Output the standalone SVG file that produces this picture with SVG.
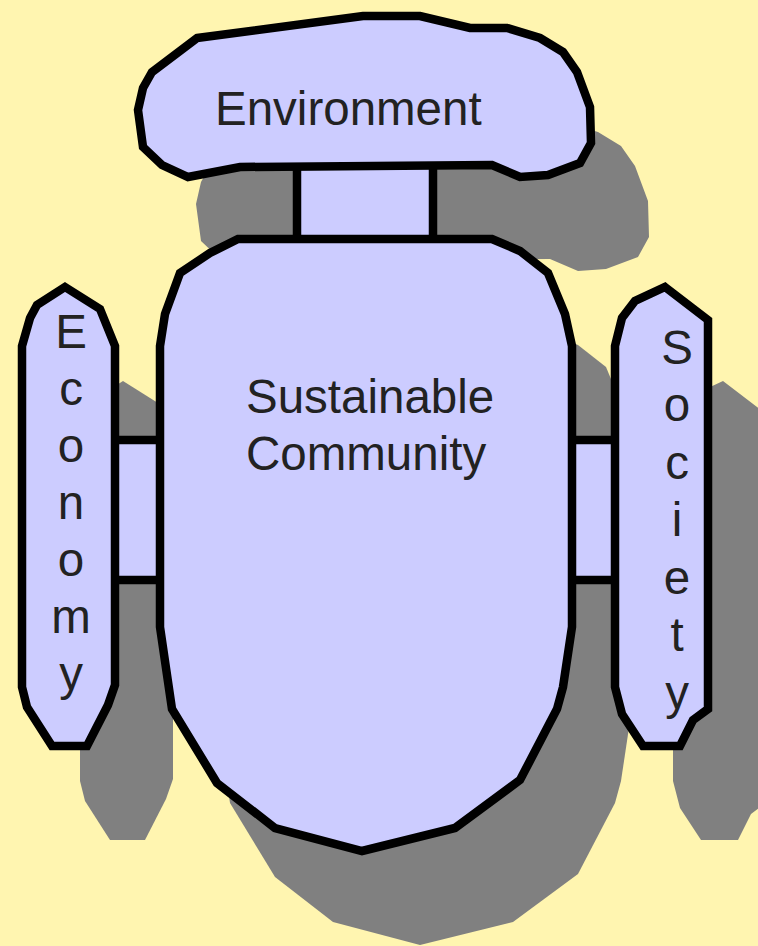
<svg xmlns="http://www.w3.org/2000/svg" width="758" height="946" viewBox="0 0 758 946">
<defs>
<style>
.shape{fill:#CCCCFF;stroke:#000;stroke-width:8.5;stroke-linejoin:miter}
.shadow{fill:#808080}
.lbl{font-family:"Liberation Sans",Arial,sans-serif;font-size:47.5px;fill:#222}
.edge{stroke:#000;stroke-width:8.5}
.link{fill:#CCCCFF}
</style>
<polygon id="envShape" points="197,38 363,16 420,16 470,28 507,28 540,38 563,52 577,72 590,107 591,143 580,163 548,175 520,177 492,165 240,167 188,177 162,165 143,147 138,110 143,88 152,72"/>
<polygon id="comShape" points="238,239 492,239 520,251 548,273 565,314 572,346 572,627 563,687 557,709 520,780 455,828 362,851 275,828 217,783 172,709 160,627 160,346 165,314 180,273 210,253"/>
<polygon id="ecoShape" points="65,287 100,309 115,346 115,685 108,705 87,746 52,746 27,707 22,687 22,346 30,318 37,305"/>
<polygon id="socShape" points="665,287 708,320 708,709 693,720 680,746 643,746 622,714 615,687 615,346 622,318 635,301"/>
</defs>
<rect width="758" height="946" fill="#FFF5B0"/>
<g id="shadows" class="shadow" transform="translate(58,94)">
<use href="#envShape"/>
<use href="#comShape"/>
<use href="#ecoShape"/>
<use href="#socShape"/>
<rect x="297" y="168" width="136" height="72"/>
<rect x="115" y="440" width="45" height="140"/>
<rect x="572" y="440" width="43" height="140"/>
</g>
<g id="connectors">
<g id="env-com">
<rect class="link" x="297" y="168" width="136" height="72"/>
<line class="edge" x1="297" y1="168" x2="297" y2="240"/>
<line class="edge" x1="433" y1="168" x2="433" y2="240"/>
</g>
<g id="eco-com">
<rect class="link" x="115" y="440" width="45" height="140"/>
<line class="edge" x1="115" y1="440" x2="160" y2="440"/>
<line class="edge" x1="115" y1="580" x2="160" y2="580"/>
</g>
<g id="com-soc">
<rect class="link" x="572" y="440" width="43" height="140"/>
<line class="edge" x1="572" y1="440" x2="615" y2="440"/>
<line class="edge" x1="572" y1="580" x2="615" y2="580"/>
</g>
</g>
<g id="environment">
<use href="#envShape" class="shape"/>
<text class="lbl" x="215" y="125">Environment</text>
</g>
<g id="community">
<use href="#comShape" class="shape"/>
<text class="lbl" x="246" y="413">Sustainable</text>
<text class="lbl" x="246" y="470">Community</text>
</g>
<g id="economy">
<use href="#ecoShape" class="shape"/>
<text class="lbl" text-anchor="middle"><tspan x="71" y="348">E</tspan><tspan x="71" y="405">c</tspan><tspan x="71" y="462">o</tspan><tspan x="71" y="519">n</tspan><tspan x="71" y="576">o</tspan><tspan x="71" y="633">m</tspan><tspan x="71" y="690">y</tspan></text>
</g>
<g id="society">
<use href="#socShape" class="shape"/>
<text class="lbl" text-anchor="middle"><tspan x="677" y="364">S</tspan><tspan x="677" y="421">o</tspan><tspan x="677" y="479">c</tspan><tspan x="677" y="536">i</tspan><tspan x="677" y="594">e</tspan><tspan x="677" y="651">t</tspan><tspan x="677" y="709">y</tspan></text>
</g>
</svg>
